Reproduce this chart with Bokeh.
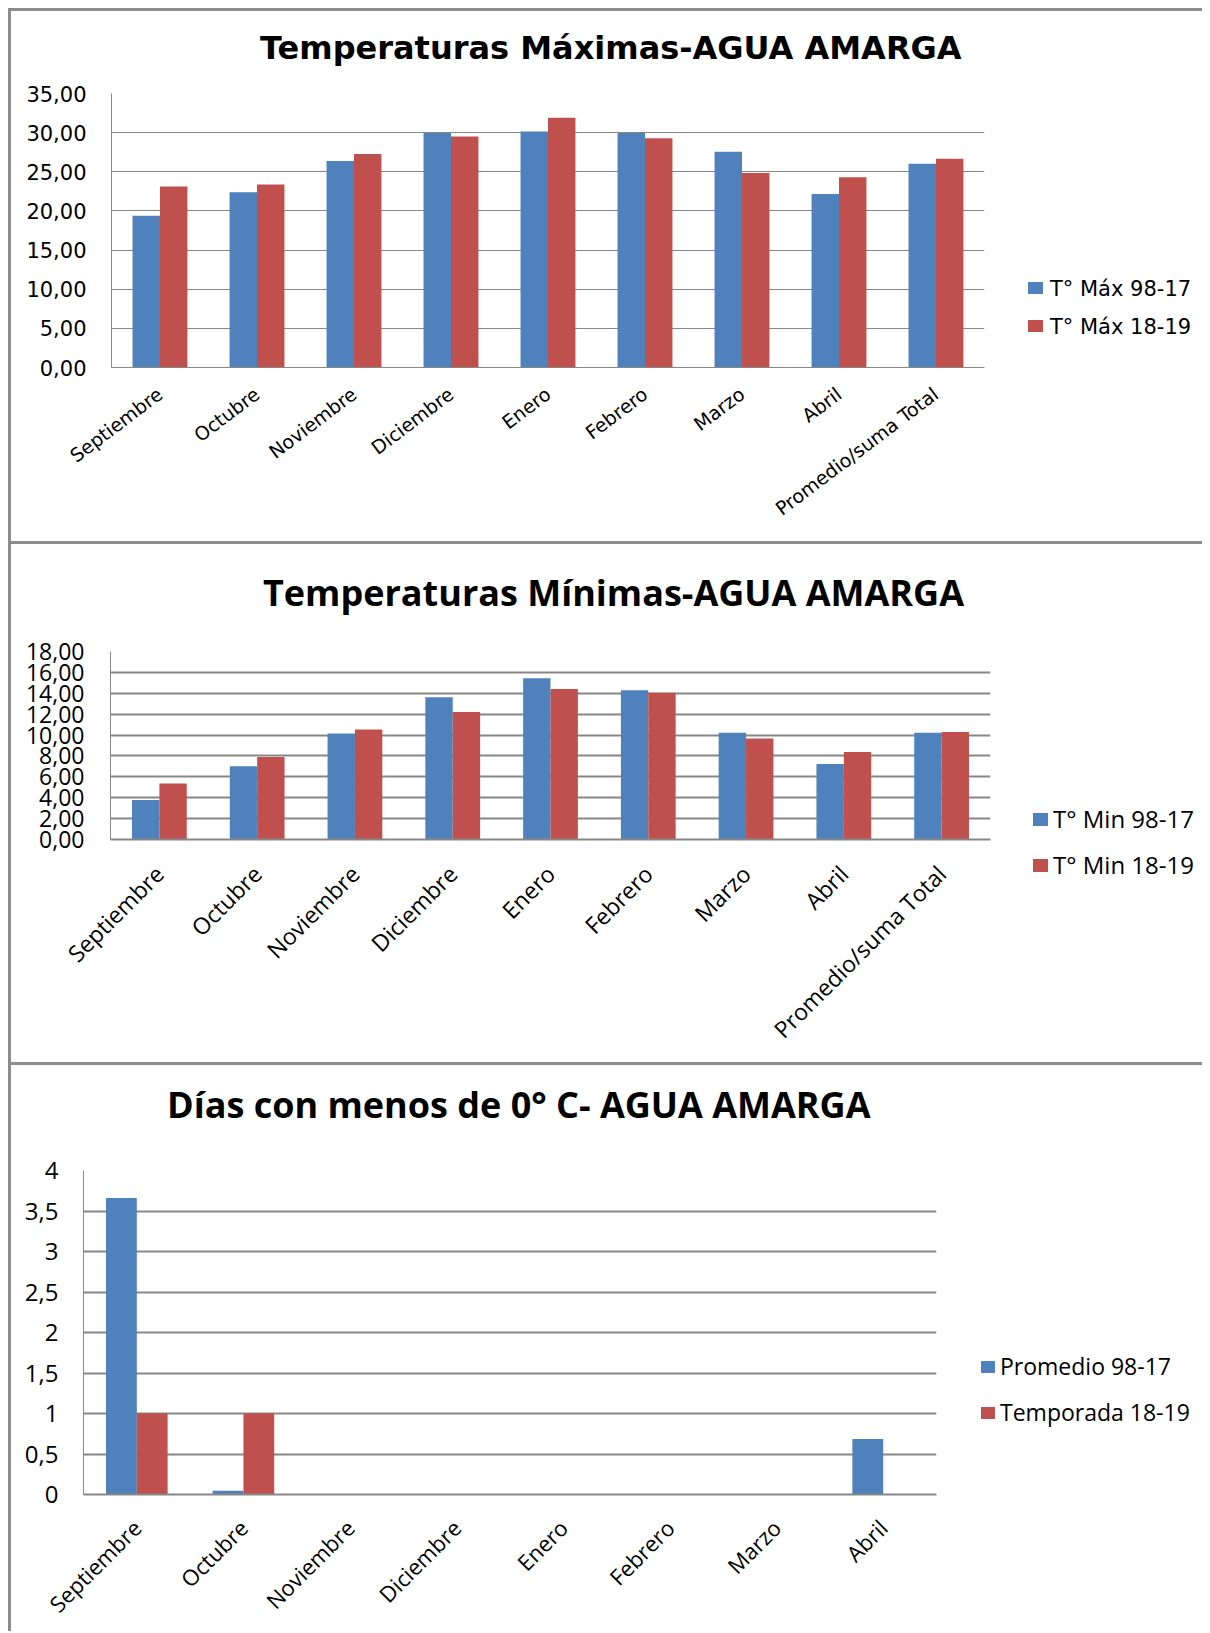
import math
from bokeh.plotting import figure
from bokeh.models import (ColumnDataSource, FactorRange, Range1d, FixedTicker, Div)
from bokeh.transform import dodge
from bokeh.layouts import column, row
from bokeh.embed import file_html
from bokeh.resources import INLINE

# ---------------- data ----------------
months9 = ["Septiembre", "Octubre", "Noviembre", "Diciembre", "Enero",
           "Febrero", "Marzo", "Abril", "Promedio/suma Total"]
months8 = ["Septiembre", "Octubre", "Noviembre", "Diciembre", "Enero",
           "Febrero", "Marzo", "Abril"]

max_98_17 = [19.38, 22.37, 26.38, 29.96, 30.14, 29.96, 27.55, 22.15, 26.03]
max_18_19 = [23.13, 23.39, 27.28, 29.50, 31.90, 29.27, 24.85, 24.30, 26.67]

min_98_17 = [3.79, 7.02, 10.15, 13.62, 15.43, 14.28, 10.22, 7.22, 10.22]
min_18_19 = [5.37, 7.91, 10.52, 12.20, 14.41, 14.05, 9.66, 8.37, 10.29]

dias_98_17 = [3.66, 0.045, 0, 0, 0, 0, 0, 0.685]
dias_18_19 = [1, 1, 0, 0, 0, 0, 0, 0]

ticks_max = [0, 5, 10, 15, 20, 25, 30, 35]
labels_max = ["0,00", "5,00", "10,00", "15,00", "20,00", "25,00", "30,00", "35,00"]
ticks_min = [0, 2, 4, 6, 8, 10, 12, 14, 16, 18]
labels_min = ["0,00", "2,00", "4,00", "6,00", "8,00", "10,00", "12,00", "14,00", "16,00", "18,00"]
ticks_dias = [0, 0.5, 1, 1.5, 2, 2.5, 3, 3.5, 4]
labels_dias = ["0", "0,5", "1", "1,5", "2", "2,5", "3", "3,5", "4"]

names_max = ["T° Máx 98-17", "T° Máx 18-19"]
names_min = ["T° Min 98-17", "T° Min 18-19"]
names_dias = ["Promedio 98-17", "Temporada 18-19"]

title_max = "Temperaturas Máximas-AGUA AMARGA"
title_min = "Temperaturas Mínimas-AGUA AMARGA"
title_dias = "Días con menos de 0° C- AGUA AMARGA"

BLUE = "#4F81BD"
RED = "#C0504D"
GRID = "#878787"
BORDER = "#8c8c8c"
COLORS = [BLUE, RED]
FULL_W = 1191


def make_chart(cats, a, b, ymax, ticks, tick_labels, cfg):
    src = ColumnDataSource(dict(cat=cats, a=a, b=b))
    p = figure(x_range=FactorRange(factors=cats), y_range=Range1d(0, ymax),
               width=cfg["W"], height=cfg["H"] - cfg["T"],
               min_border_left=cfg["left"], min_border_right=cfg["right"],
               min_border_top=cfg["top"] - cfg["T"], min_border_bottom=cfg["bottom"],
               output_backend="svg", toolbar_location=None,
               margin=0, frame_align=False)
    # the title is drawn in its own block above the figure
    p.title.text_font_size = "1px"
    p.title.standoff = 0

    bw = cfg["bar_w"]
    p.vbar(x=dodge("cat", -bw / 2, range=p.x_range), top="a", width=bw,
           source=src, fill_color=BLUE, line_color=None)
    p.vbar(x=dodge("cat", bw / 2, range=p.x_range), top="b", width=bw,
           source=src, fill_color=RED, line_color=None)

    p.outline_line_color = None
    p.background_fill_color = "white"
    p.border_fill_color = "white"
    p.xgrid.visible = False
    p.ygrid.grid_line_color = GRID
    p.ygrid.grid_line_width = cfg["grid_w"]

    ya = p.yaxis[0]
    ya.ticker = FixedTicker(ticks=ticks)
    ya.major_label_overrides = {t: l for t, l in zip(ticks, tick_labels)}
    ya.axis_line_color = GRID
    ya.axis_line_width = 1
    ya.major_tick_line_color = None
    ya.minor_tick_line_color = None
    ya.major_tick_out = 0
    ya.minor_tick_out = 0
    ya.major_label_standoff = cfg["ystand"]
    ya.major_label_text_font = cfg["font"]
    ya.major_label_text_font_size = "%dpx" % cfg["tick_size"]
    ya.major_label_text_color = "black"

    xa = p.xaxis[0]
    xa.axis_line_color = GRID
    xa.axis_line_width = cfg["grid_w"]
    xa.major_tick_line_color = None
    xa.minor_tick_line_color = None
    xa.major_tick_out = 0
    xa.minor_tick_out = 0
    xa.major_label_orientation = math.radians(cfg["angle"])
    xa.major_label_standoff = cfg["xstand"]
    xa.major_label_text_font = cfg["font"]
    xa.major_label_text_font_size = "%dpx" % cfg["xlab_size"]
    xa.major_label_text_color = "black"
    return p


def make_title(text, cfg):
    return Div(text=text, width=FULL_W, height=cfg["T"], margin=0,
               styles={"background-color": "white", "font-family": cfg["title_font"],
                       "font-weight": "bold", "font-size": "%dpx" % cfg["title_size"],
                       "line-height": "%dpx" % cfg["title_size"], "color": "black",
                       "padding-top": "%dpx" % cfg["tpad_top"],
                       "padding-left": "%dpx" % cfg["tpad_left"],
                       "box-sizing": "border-box", "white-space": "nowrap"})


def make_legend(names, cfg):
    rows_html = ""
    for name, col in zip(names, COLORS):
        rows_html += (
            '<div style="height:%dpx;line-height:%dpx;white-space:nowrap;">'
            '<span style="display:inline-block;width:%dpx;height:%dpx;background:%s;'
            'margin-right:%dpx;vertical-align:middle;position:relative;top:-2px;"></span>'
            '%s</div>' % (cfg["lh"], cfg["lh"], cfg["gw"], cfg["gh"], col,
                          cfg["lstand"], name))
    html = ('<div style="padding-top:%dpx;padding-left:%dpx;font-family:\'%s\';'
            'font-size:%dpx;color:black;">%s</div>'
            % (cfg["lpad_top"] - cfg["T"], cfg["lpad_left"], cfg["font"],
               cfg["leg_size"], rows_html))
    return Div(text=html, width=FULL_W - cfg["W"], height=cfg["H"] - cfg["T"], margin=0,
               styles={"background-color": "white"})


def make_panel(cats, a, b, ymax, ticks, tick_labels, title, names, cfg):
    p = make_chart(cats, a, b, ymax, ticks, tick_labels, cfg)
    body = row(p, make_legend(names, cfg), margin=0, spacing=0)
    return column(make_title(title, cfg), body, margin=(3, 0, 0, 3), spacing=0,
                  styles={"background-color": "white"})


cfg1 = dict(W=1000, H=530, T=62, left=100, right=27, top=82, bottom=174, bar_w=0.283,
            grid_w=1, font="DejaVu Sans", title_font="DejaVu Sans", tick_size=21,
            xlab_size=19, leg_size=21, title_size=32, angle=37, ystand=25, xstand=24,
            tpad_top=21, tpad_left=249,
            lh=38, gw=15, gh=12, lstand=7, lpad_top=259, lpad_left=17)
cfg2 = dict(W=1000, H=518, T=80, left=99, right=21, top=107, bottom=223, bar_w=0.28,
            grid_w=2, font="Open Sans", title_font="Open Sans", tick_size=23,
            xlab_size=23, leg_size=24, title_size=36, angle=45, ystand=26, xstand=30,
            tpad_top=31, tpad_left=252,
            lh=46, gw=15, gh=13, lstand=5, lpad_top=252, lpad_left=22)
cfg3 = dict(W=960, H=566, T=70, left=72, right=35, top=105, bottom=136, bar_w=0.289,
            grid_w=2, font="Open Sans", title_font="Open Sans", tick_size=24,
            xlab_size=22, leg_size=23, title_size=36, angle=45, ystand=25, xstand=29,
            tpad_top=22, tpad_left=156,
            lh=46, gw=14, gh=12, lstand=5, lpad_top=278, lpad_left=10)

panel1 = make_panel(months9, max_98_17, max_18_19, 35, ticks_max, labels_max,
                    title_max, names_max, cfg1)
panel2 = make_panel(months9, min_98_17, min_18_19, 18, ticks_min, labels_min,
                    title_min, names_min, cfg2)
panel3 = make_panel(months8, dias_98_17, dias_18_19, 4, ticks_dias, labels_dias,
                    title_dias, names_dias, cfg3)

layout = column(panel1, panel2, panel3, spacing=0, margin=(8, 0, 0, 8),
                styles={"background-color": BORDER})

open("out.html", "w").write(file_html(layout, INLINE))
